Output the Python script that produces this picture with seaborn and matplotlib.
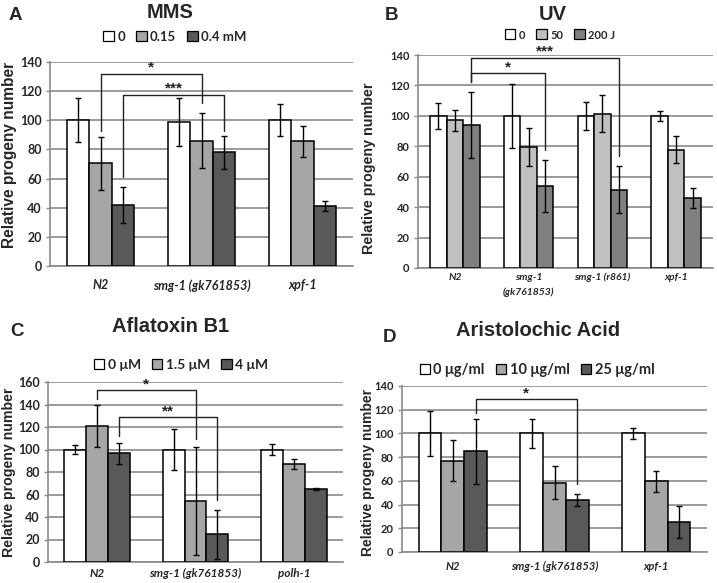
import matplotlib
matplotlib.use("Agg")
import matplotlib.pyplot as plt
import seaborn as sns
import pandas as pd
import numpy as np

# ---------------- data ----------------
# Panel A: MMS
a_strains = ["N2", "smg-1 (gk761853)", "xpf-1"]
a_doses = ["0", "0.15", "0.4 mM"]
a_vals = [[100, 70.5, 42], [99, 86, 78], [100, 85.5, 41]]
a_errs = [[15, 18, 12.5], [16.5, 19, 11.5], [11, 10.5, 3.5]]
a_brackets = [(0, 1, 1, 1, 132, 92.5, 112, "*", 136),
              (0, 2, 1, 2, 117.5, 61, 92.5, "***", 121.5)]

# Panel B: UV
b_strains = ["N2", "smg-1\n(gk761853)", "smg-1 (r861)", "xpf-1"]
b_doses = ["0", "50", "200 J"]
b_vals = [[100, 97, 94], [100, 79.5, 54], [100, 101.5, 51.5], [100, 77.8, 46]]
b_errs = [[8.6, 7, 22], [20.8, 12.3, 17], [9, 12, 15.5], [3.3, 9, 6.3]]
b_brackets = [(0, 2, 1, 2, 128.3, 122, 77.6, "*", 131.5),
              (0, 2, 2, 2, 138, 122, 73.3, "***", 142.5)]

# Panel C: Aflatoxin B1
c_strains = ["N2", "smg-1 (gk761853)", "polh-1"]
c_doses = ["0 \u03bcM", "1.5 \u03bcM", "4 \u03bcM"]
c_vals = [[100, 121, 96.5], [100, 54.5, 24.5], [100, 87, 65]]
c_errs = [[4, 19, 9], [18.5, 48, 21.5], [4.5, 4.7, 1.2]]
c_brackets = [(0, 1, 1, 1, 153, 145, 109, "*", 158),
              (0, 2, 1, 2, 128.7, 112, 55.5, "**", 133.5)]

# Panel D: Aristolochic Acid
d_strains = ["N2", "smg-1 (gk761853)", "xpf-1"]
d_doses = ["0 \u03bcg/ml", "10 \u03bcg/ml", "25 \u03bcg/ml"]
d_vals = [[100, 77, 85], [100, 58.5, 44], [100, 59.5, 25]]
d_errs = [[19, 17.5, 27.5], [12, 14, 5], [4.5, 9, 13.5]]
d_brackets = [(0, 2, 1, 2, 129, 117.5, 57.7, "*", 134)]

# ---------------- style ----------------
sns.set_style("white")
plt.rcParams['font.family'] = ['Liberation Sans', 'DejaVu Sans']
TICKFONT = ['Lato', 'DejaVu Sans']
HEADFONT = ['Liberation Sans', 'DejaVu Sans']
GRID = '#8a8a8a'

W, H = 717, 583
fig = plt.figure(figsize=(W / 100, H / 100), dpi=100)


def fx(px):
    return px / W


def fy(py):
    return 1 - py / H


def panel(rect, strains, doses, vals, errs, brackets, colors, ymax,
          tick_size, xtick_size, xpad, legend_pos, legend_size,
          title, title_pos, letter, letter_pos, ylab_pos, ylab_size,
          xlab_linespacing=1.2):
    l, r, t, b = rect
    ax = fig.add_axes([fx(l), fy(b), fx(r - l), (b - t) / H])
    df = pd.DataFrame({
        "strain": np.repeat(strains, len(doses)),
        "dose": doses * len(strains),
        "value": np.ravel(vals),
    })
    sns.barplot(data=df, x="strain", y="value", hue="dose", order=strains,
                hue_order=doses, palette=colors, width=0.67, errorbar=None,
                saturation=1, edgecolor="black", linewidth=1.1, ax=ax, zorder=3)
    bar_conts = list(ax.containers)
    # error bars
    for j, cont in enumerate(bar_conts):
        xs = [bar.get_x() + bar.get_width() / 2 for bar in cont]
        ys = [vals[i][j] for i in range(len(strains))]
        es = [errs[i][j] for i in range(len(strains))]
        ax.errorbar(xs, ys, yerr=es, fmt='none', ecolor='black',
                    elinewidth=1.0, capsize=2.2, capthick=1.0, zorder=4)
    # significance brackets
    for (c1, h1, c2, h2, top, e1, e2, lab, ly) in brackets:
        b1 = bar_conts[h1][c1]
        b2 = bar_conts[h2][c2]
        x1 = b1.get_x() + b1.get_width() / 2
        x2 = b2.get_x() + b2.get_width() / 2
        ax.plot([x1, x1, x2, x2], [e1, top, top, e2], color='#222222',
                lw=1.0, zorder=5, clip_on=False)
        ax.text((x1 + x2) / 2, ly, lab, ha='center', va='center',
                fontsize=11, fontweight='bold', family=HEADFONT,
                color='#222222', clip_on=False)

    ax.set_ylim(0, ymax)
    ax.set_yticks(np.arange(0, ymax + 1, 20))
    ax.set_xlim(-0.5, len(strains) - 0.5)
    ax.set_xlabel("")
    ax.set_ylabel("")
    ax.yaxis.grid(True, color=GRID, lw=1.2)
    ax.set_axisbelow(True)
    for s in ["top", "right"]:
        ax.spines[s].set_visible(False)
    for s in ["left", "bottom"]:
        ax.spines[s].set_color(GRID)
        ax.spines[s].set_linewidth(1.2)
    ax.set_xticks(np.arange(-0.5, len(strains)), minor=True)
    ax.tick_params(axis='x', which='major', length=0, pad=xpad)
    ax.tick_params(axis='x', which='minor', length=3.5, color=GRID,
                   width=1.0, direction='out')
    ax.tick_params(axis='y', which='major', length=3, color=GRID,
                   width=1.0, direction='out', pad=3, left=True)
    for lab in ax.get_yticklabels():
        lab.set_fontfamily(TICKFONT)
        lab.set_fontweight('bold')
        lab.set_fontsize(tick_size)
    for lab in ax.get_xticklabels():
        lab.set_fontfamily(TICKFONT)
        lab.set_fontweight('bold')
        lab.set_fontstyle('italic')
        lab.set_fontsize(xtick_size)
        lab.set_linespacing(xlab_linespacing)

    sns.move_legend(ax, "center", bbox_to_anchor=(fx(legend_pos[0]), fy(legend_pos[1])),
                    bbox_transform=fig.transFigure, ncol=3, frameon=False,
                    title=None, handlelength=0.75, handleheight=0.75,
                    handletextpad=0.25, columnspacing=0.8, borderpad=0)
    leg = ax.get_legend()
    for txt in leg.get_texts():
        txt.set_fontfamily(TICKFONT)
        txt.set_fontweight('bold')
        txt.set_fontsize(legend_size)
    for hnd in leg.legend_handles:
        hnd.set_edgecolor('black')
        hnd.set_linewidth(0.9)

    fig.text(fx(title_pos[0]), fy(title_pos[1]), title, ha='center', va='center',
             fontsize=14.5, fontweight='bold', family=HEADFONT)
    fig.text(fx(letter_pos[0]), fy(letter_pos[1]), letter, ha='center', va='center',
             fontsize=13.5, fontweight='bold', family=HEADFONT)
    fig.text(fx(ylab_pos[0]), fy(ylab_pos[1]), "Relative progeny number",
             rotation=90, ha='center', va='center', fontsize=ylab_size,
             fontweight='bold', family=HEADFONT)
    return ax


panel((50, 353, 62, 266), a_strains, a_doses, a_vals, a_errs, a_brackets,
      ['#ffffff', '#a6a6a6', '#595959'], 140, 9, 9, 9.5, (175, 37), 9.5,
      "MMS", (170, 13), "A", (15, 15), (10, 155), 11.2)

panel((418, 713, 55, 268), b_strains, b_doses, b_vals, b_errs, b_brackets,
      ['#ffffff', '#c0c0c0', '#808080'], 140, 8, 7.5, 3.5, (560, 35), 8,
      "UV", (553, 15), "B", (392, 15), (369, 168), 10.3, xlab_linespacing=1.8)

panel((48, 343, 382, 562), c_strains, c_doses, c_vals, c_errs, c_brackets,
      ['#ffffff', '#a6a6a6', '#595959'], 160, 9, 8.5, 4, (181, 365), 10,
      "Aflatoxin B1", (171, 327), "C", (17, 332), (9, 472), 10.2)

panel((402, 707, 386, 552), d_strains, d_doses, d_vals, d_errs, d_brackets,
      ['#ffffff', '#a6a6a6', '#595959'], 140, 8, 8, 6.5, (537, 370), 10.5,
      "Aristolochic Acid", (538, 330), "D", (389, 338), (368, 472), 10.0)

fig.savefig("out.png", dpi=100)
